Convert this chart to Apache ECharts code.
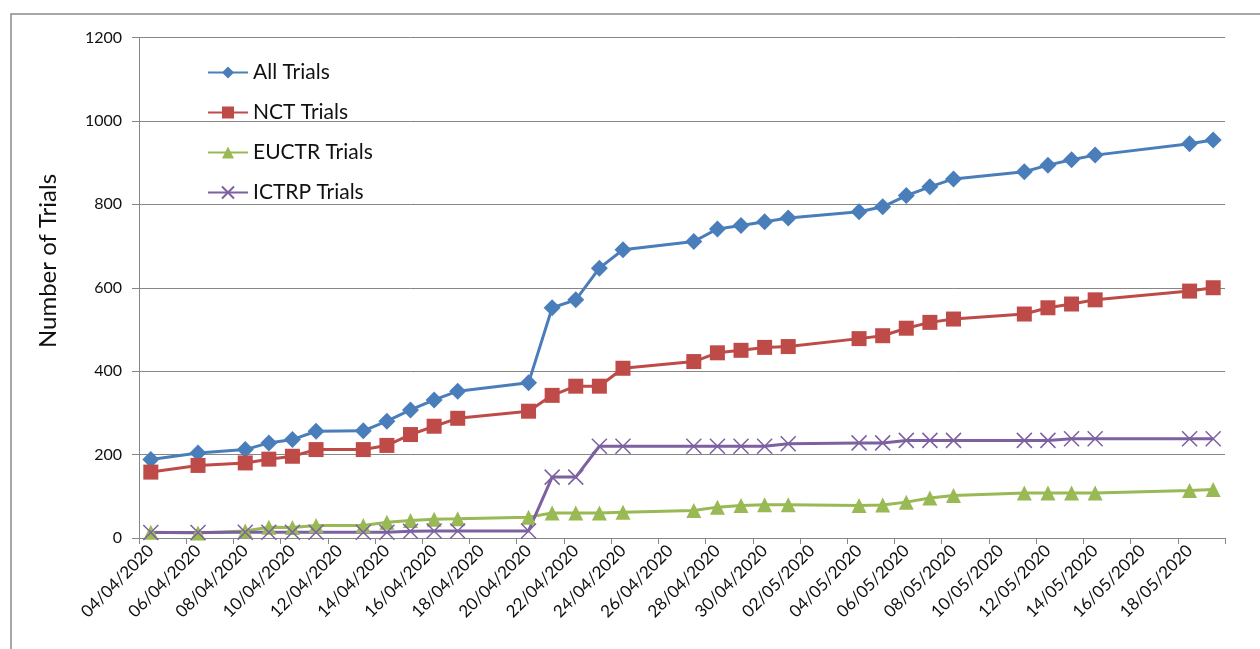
<!DOCTYPE html>
<html>
<head>
<meta charset="utf-8">
<script src="https://cdn.jsdelivr.net/npm/echarts@6/dist/echarts.min.js"></script>
<style>
html,body{margin:0;padding:0;background:#fff;}
#chart{width:1260px;height:649px;}
</style>
</head>
<body>
<div id="chart"></div>
<script>
// ---- data ----
const dates = ['04/04/2020','06/04/2020','08/04/2020','09/04/2020','10/04/2020','11/04/2020','13/04/2020','14/04/2020','15/04/2020','16/04/2020','17/04/2020','20/04/2020','21/04/2020','22/04/2020','23/04/2020','24/04/2020','27/04/2020','28/04/2020','29/04/2020','30/04/2020','01/05/2020','04/05/2020','05/05/2020','06/05/2020','07/05/2020','08/05/2020','11/05/2020','12/05/2020','13/05/2020','14/05/2020','18/05/2020','19/05/2020'];
const allTrials = [188,204,212,228,236,256,257,280,307,331,352,372,552,571,647,691,711,741,749,758,767,782,794,821,842,861,878,894,907,918,945,954];
const nctTrials = [158,174,180,189,196,212,212,222,248,268,287,304,342,364,364,407,423,444,450,457,459,478,485,503,517,525,537,552,561,571,592,600];
const euctrTrials = [14,12,17,26,25,30,30,38,42,45,46,50,60,60,60,62,66,74,78,80,80,78,79,86,96,102,108,108,108,108,114,116];
const ictrpTrials = [13,13,14,14,14,14,14,14,16,17,17,17,146,146,220,220,220,220,220,220,226,228,228,234,234,234,234,234,238,238,238,238];
const seriesNames = ['All Trials','NCT Trials','EUCTR Trials','ICTRP Trials'];
const yTicks = [0,200,400,600,800,1000,1200];
const yTitle = 'Number of Trials';

// axis categories: every day of the date axis, 04/04/2020 .. 19/05/2020
const axisDays = [];
(function(){
  const d = new Date(Date.UTC(2020,3,4));
  const end = new Date(Date.UTC(2020,4,19));
  while (d <= end) {
    const dd = String(d.getUTCDate()).padStart(2,'0');
    const mm = String(d.getUTCMonth()+1).padStart(2,'0');
    axisDays.push(dd + '/' + mm + '/' + d.getUTCFullYear());
    d.setUTCDate(d.getUTCDate()+1);
  }
})();

const FONT = 'Lato';
const AXIS_GRAY = '#868686';
const TEXT = '#111';
const pair = arr => dates.map((d,i) => [d, arr[i]]);

const chart = echarts.init(document.getElementById('chart'), null, {renderer:'canvas'});
chart.setOption({
  animation: false,
  backgroundColor: '#fff',
  textStyle: {fontFamily: FONT},
  graphic: [
    {
      type: 'rect', z: -10, silent: true,
      shape: {x: 11, y: 14, width: 1400, height: 800},
      style: {fill: 'none', stroke: '#8a8a8a', lineWidth: 1.5}
    },
    {
      type: 'text', silent: true, x: 48, y: 261, rotation: Math.PI/2,
      style: {text: yTitle, font: '24px Lato', fill: TEXT, align: 'center', verticalAlign: 'middle'}
    }
  ],
  grid: {left: 139, right: 35, top: 37.5, bottom: 111, containLabel: false},
  legend: {
    orient: 'vertical', left: 207, top: 62, padding: 0,
    itemWidth: 40, itemHeight: 15, itemGap: 19,
    textStyle: {fontFamily: FONT, fontSize: 21, color: TEXT},
    data: seriesNames
  },
  xAxis: {
    type: 'category', data: axisDays, boundaryGap: true,
    axisLine: {lineStyle: {color: AXIS_GRAY, width: 1}},
    axisTick: {show: true, interval: 1, length: 6, lineStyle: {color: AXIS_GRAY}},
    axisLabel: {interval: 1, rotate: 45, fontFamily: FONT, fontSize: 17, color: TEXT, margin: 10},
    splitLine: {show: false}
  },
  yAxis: {
    type: 'value', min: yTicks[0], max: yTicks[yTicks.length-1], interval: 200,
    axisLine: {show: true, lineStyle: {color: AXIS_GRAY, width: 1}},
    axisTick: {show: true, length: 7, lineStyle: {color: AXIS_GRAY}},
    axisLabel: {fontFamily: FONT, fontSize: 16, color: TEXT, margin: 17, formatter: v => String(v)},
    splitLine: {show: true, lineStyle: {color: AXIS_GRAY, width: 1}}
  },
  series: [
    {
      name: seriesNames[0], type: 'line', data: pair(allTrials), showAllSymbol: true,
      symbol: 'diamond', symbolSize: 17,
      lineStyle: {color: '#4A7EBB', width: 3},
      itemStyle: {color: '#4A7EBB'}
    },
    {
      name: seriesNames[1], type: 'line', data: pair(nctTrials), showAllSymbol: true,
      symbol: 'rect', symbolSize: 15,
      lineStyle: {color: '#BE4B48', width: 3},
      itemStyle: {color: '#BE4B48'}
    },
    {
      name: seriesNames[2], type: 'line', data: pair(euctrTrials), showAllSymbol: true,
      symbol: 'triangle', symbolSize: 15,
      lineStyle: {color: '#98B954', width: 3},
      itemStyle: {color: '#98B954'}
    },
    {
      name: seriesNames[3], type: 'line', data: pair(ictrpTrials), showAllSymbol: true,
      symbol: 'path://M0,0L10,10M10,0L0,10', symbolSize: 15,
      lineStyle: {color: '#7D60A0', width: 3},
      itemStyle: {color: '#7D60A0', borderColor: '#7D60A0', borderWidth: 1.5}
    }
  ]
});
</script>
</body>
</html>
